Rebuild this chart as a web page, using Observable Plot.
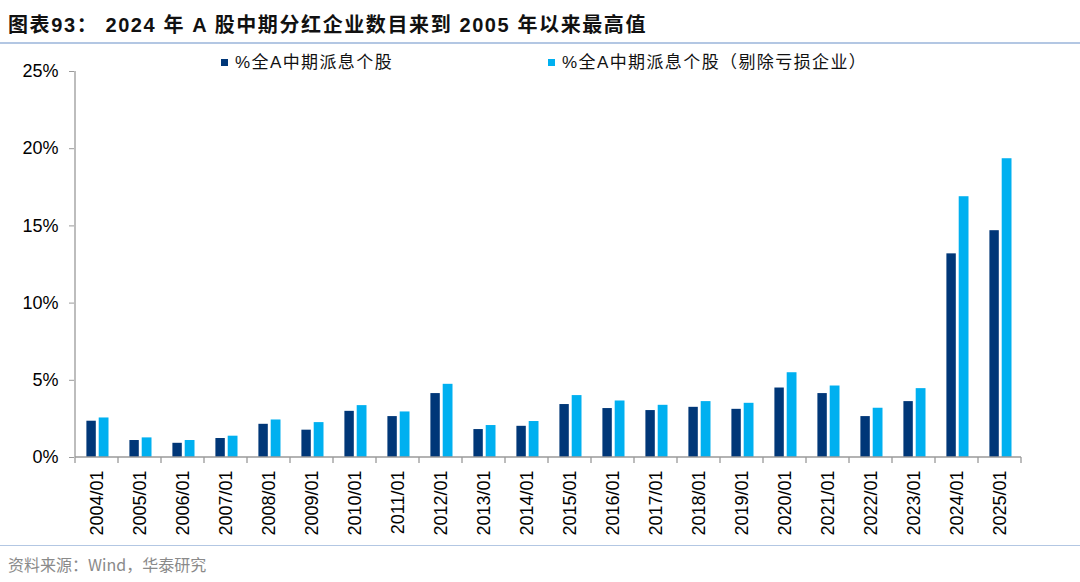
<!DOCTYPE html>
<html>
<head>
<meta charset="utf-8">
<script src="https://cdn.jsdelivr.net/npm/d3@7"></script>
<script src="https://cdn.jsdelivr.net/npm/@observablehq/plot@0.6"></script>
<style>
  body { margin: 0; background: #fff; width: 1080px; height: 582px; overflow: hidden; position: relative;
         font-family: "Liberation Sans", Arial, "Noto Sans CJK SC", sans-serif; }
  #title { position: absolute; left: 8px; top: 9px; font-size: 20px; font-weight: bold; color: #111; white-space: nowrap;
           font-family: "Liberation Sans", Arial, "Noto Sans CJK SC", sans-serif; letter-spacing: 1.6px; }
  #tline { position: absolute; left: 0; top: 42px; width: 1080px; height: 2px; background: #b3c7e3; }
  #chart { position: absolute; left: 0; top: 45px; }
  .leg { position: absolute; top: 52px; font-size: 17px; color: #111; white-space: nowrap; letter-spacing: 1.4px; line-height: 22px; }
  .leg i { display: inline-block; width: 7px; height: 7px; margin-right: 7px; vertical-align: 2px; }
  #fline { position: absolute; left: 0; top: 545px; width: 1080px; height: 1px; background: #b3c7e3; }
  #source { position: absolute; left: 8px; top: 552px; font-size: 16px; color: #8a8a8a; white-space: nowrap;
            font-family: "Noto Sans CJK SC", sans-serif; }
</style>
</head>
<body>
<div id="title">图表93：  2024 年 A 股中期分红企业数目来到 2005 年以来最高值</div>
<div id="tline"></div>
<div id="chart"></div>
<div id="legend"></div>
<div id="fline"></div>
<div id="source">资料来源：Wind，华泰研究</div>
<script>
const categories = ["2004/01","2005/01","2006/01","2007/01","2008/01","2009/01","2010/01","2011/01","2012/01","2013/01","2014/01",
                    "2015/01","2016/01","2017/01","2018/01","2019/01","2020/01","2021/01","2022/01","2023/01","2024/01","2025/01"];
const allA   = [2.35,1.10,0.92,1.23,2.15,1.77,2.99,2.65,4.14,1.81,2.02,3.43,3.17,3.04,3.25,3.12,4.50,4.14,2.65,3.62,13.19,14.69];
const exLoss = [2.56,1.27,1.10,1.38,2.43,2.26,3.36,2.95,4.74,2.07,2.33,4.01,3.66,3.38,3.62,3.51,5.49,4.63,3.19,4.46,16.89,19.35];
const seriesNames = ["%全A中期派息个股", "%全A中期派息个股（剔除亏损企业）"];
const seriesColors = ["#003778", "#00b0f0"];
const yTicks = [0, 5, 10, 15, 20, 25];

const data = categories.map((c, i) => ({cat: c, a: allA[i], b: exLoss[i]}));

function axisLines(index, scales, values, dims) {
  const x = scales.x, y = scales.y;
  const bw = x.bandwidth ? x.bandwidth() : (x(categories[1]) - x(categories[0]));
  const x0 = x(categories[0]);
  const xEnd = x(categories[categories.length - 1]) + bw;
  const y0 = y(0);
  const g = d3.create("svg:g").attr("stroke", "#9a9a9a").attr("stroke-width", 1.3).attr("fill", "none");
  g.append("line").attr("x1", x0).attr("x2", x0).attr("y1", y(yTicks[yTicks.length - 1])).attr("y2", y0);
  g.append("line").attr("x1", x0).attr("x2", xEnd).attr("y1", y0).attr("y2", y0);
  const bounds = categories.map(c => x(c)).concat([xEnd]);
  for (const bx of bounds) {
    g.append("line").attr("x1", bx).attr("x2", bx).attr("y1", y0).attr("y2", y0 + 6);
  }
  return g.node();
}

const chart = Plot.plot({
  width: 1080,
  height: 500,
  marginTop: 26,
  marginBottom: 88,
  marginLeft: 74,
  marginRight: 58,
  style: {fontFamily: '"Liberation Sans", Arial, sans-serif', color: "#000", background: "transparent"},
  x: {domain: categories, padding: 0, axis: null},
  y: {domain: [0, 25], axis: null},
  marks: [
    Plot.barY(data, {x: "cat", y: "a", fill: seriesColors[0], insetLeft: 11.4, insetRight: 22.2}),
    Plot.barY(data, {x: "cat", y: "b", fill: seriesColors[1], insetLeft: 23.7, insetRight: 9.5}),
    Plot.axisY({ticks: yTicks, tickFormat: d => d + "%", tickSize: 5, tickPadding: 11, fontSize: 18, stroke: "#9a9a9a", label: null}),
    Plot.axisX({tickRotate: -90, tickSize: 0, tickPadding: 13, fontSize: 18, label: null}),
    axisLines
  ]
});
document.getElementById("chart").appendChild(chart);

const legendPos = [221, 548];
const legend = document.getElementById("legend");
seriesNames.forEach((name, i) => {
  const d = document.createElement("div");
  d.className = "leg";
  d.style.left = legendPos[i] + "px";
  d.innerHTML = `<i style="background:${seriesColors[i]}"></i>${name}`;
  legend.appendChild(d);
});
</script>
</body>
</html>
